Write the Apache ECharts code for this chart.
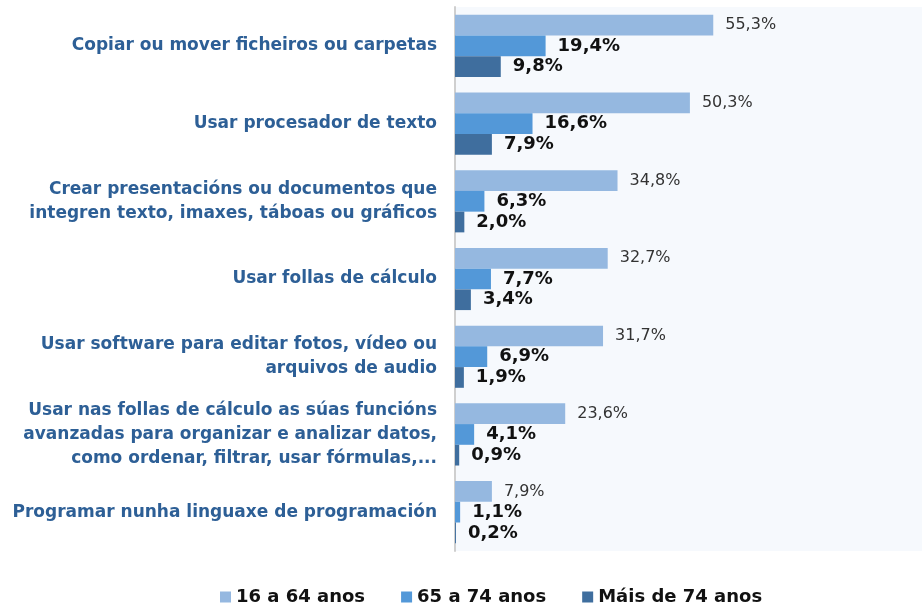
<html>
<head>
    <meta http-equiv="Content-Type" content="text/html; charset=utf-8" />
    <script type="text/javascript" src="https://cdn.jsdelivr.net/npm/echarts@6/dist/echarts.min.js"></script>
</head>
<body style="margin:0">
<div id="main" style="width: 922px;height:604px;"></div>
</body>
<script type="text/javascript">
    // categorias (de arriba a abaixo)
    var categorias = [
        'Copiar ou mover ficheiros ou carpetas',
        'Usar procesador de texto',
        'Crear presentacións ou documentos que\nintegren texto, imaxes, táboas ou gráficos',
        'Usar follas de cálculo',
        'Usar software para editar fotos, vídeo ou\narquivos de audio',
        'Usar nas follas de cálculo as súas funcións\navanzadas para organizar e analizar datos,\ncomo ordenar, filtrar, usar fórmulas,...',
        'Programar nunha linguaxe de programación'
    ];
    var series16a64 = [55.3, 50.3, 34.8, 32.7, 31.7, 23.6, 7.9];
    var series65a74 = [19.4, 16.6, 6.3, 7.7, 6.9, 4.1, 1.1];
    var seriesMais74 = [9.8, 7.9, 2.0, 3.4, 1.9, 0.9, 0.2];
    var nomes = ['16 a 64 anos', '65 a 74 anos', 'Máis de 74 anos'];

    function fmt(p) {
        return p.value.toFixed(1).replace('.', ',') + '%';
    }

    var myChart = echarts.init(document.getElementById('main'));
    var option = {
        textStyle: { fontFamily: 'DejaVu Sans' },
        grid: {
            left: 455, top: 7, width: 472, height: 544,
            show: true, backgroundColor: '#f6f9fd', borderWidth: 0
        },
        legend: {
            top: 583,
            left: 215,
            itemWidth: 11,
            itemHeight: 11,
            itemGap: 36,
            icon: 'rect',
            textStyle: { fontSize: 18, fontWeight: 'bold', color: '#111', fontFamily: 'DejaVu Sans' },
            data: nomes
        },
        xAxis: {
            type: 'value', min: 0, max: 100, show: false
        },
        yAxis: {
            type: 'category',
            inverse: true,
            data: categorias,
            axisLine: { lineStyle: { color: '#cfcfcf', width: 2 } },
            axisTick: { show: false },
            axisLabel: {
                margin: 18,
                color: '#2d5f96',
                fontSize: 17,
                fontWeight: 'bold',
                fontFamily: 'DejaVu Sans',
                lineHeight: 24,
                align: 'right'
            }
        },
        series: [
            {
                name: nomes[0], type: 'bar', data: series16a64,
                barGap: '0%', barCategoryGap: '20%',
                itemStyle: { color: '#95b8e0' },
                label: { show: true, position: 'right', distance: 12, formatter: fmt,
                    fontSize: 16, color: '#333', fontFamily: 'DejaVu Sans' }
            },
            {
                name: nomes[1], type: 'bar', data: series65a74,
                itemStyle: { color: '#5398d8' },
                label: { show: true, position: 'right', distance: 12, formatter: fmt,
                    fontSize: 18, fontWeight: 'bold', color: '#111', fontFamily: 'DejaVu Sans' }
            },
            {
                name: nomes[2], type: 'bar', data: seriesMais74,
                itemStyle: { color: '#3f6e9e' },
                label: { show: true, position: 'right', distance: 12, formatter: fmt,
                    fontSize: 18, fontWeight: 'bold', color: '#111', fontFamily: 'DejaVu Sans' }
            }
        ]
    };
    myChart.setOption(option);
</script>
</html>
